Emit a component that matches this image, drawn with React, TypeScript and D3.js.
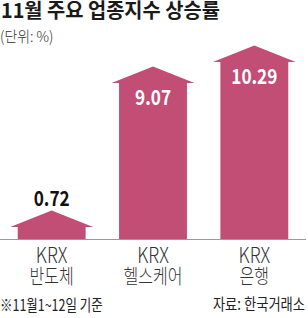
import React from "react";
import * as d3 from "d3";

const title = "11월 주요 업종지수 상승률";
const unit = "(단위: %)";
const categories = ["KRX 반도체", "KRX 헬스케어", "KRX 은행"];
const values = [0.72, 9.07, 10.29];
const valueLabels = ["0.72", "9.07", "10.29"];
const note = "※11월1~12일 기준";
const source = "자료: 한국거래소";

const W = 308;
const H = 318;
const BAR = "#c24d75";
const FONT = "'Noto Sans CJK KR', 'Noto Sans', sans-serif";

function SText({ x, y, sx = 0.8, anchor = "middle", size, weight = 400, fill = "#222", children }: any) {
  return (
    <text
      transform={`translate(${x},${y}) scale(${sx},1)`}
      textAnchor={anchor}
      fontSize={size}
      fontWeight={weight}
      fill={fill}
      fontFamily={FONT}
    >
      {children}
    </text>
  );
}

export default function App() {
  const baseY = 239.5;
  const x = d3.scaleBand<string>().domain(categories).range([1, 305]).paddingInner(0.33).paddingOuter(0.165);
  const y = d3.scaleLinear().domain([0, 10.29]).range([baseY, 62]);
  const bw = x.bandwidth();
  const over = 7.5;
  const headH = 16.5;

  return (
    <div style={{ position: "absolute", left: 0, top: 0, width: W, height: H, background: "#fff" }}>
      <svg width={W} height={H} style={{ display: "block" }}>
        <rect width={W} height={H} fill="#fff" />
        <SText x={1} y={18} anchor="start" size={20} weight={700} sx={0.99} fill="#1a1a1a">{title}</SText>
        <SText x={0} y={42} anchor="start" size={15} weight={300} sx={0.93} fill="#333">{unit}</SText>
        {categories.map((c, i) => {
          const x0 = x(c)!;
          const cx = x0 + bw / 2;
          const top = y(values[i]);
          const d = d3.path();
          d.moveTo(x0, baseY);
          d.lineTo(x0, top);
          d.lineTo(x0 - over, top);
          d.lineTo(cx, top - headH);
          d.lineTo(x0 + bw + over, top);
          d.lineTo(x0 + bw, top);
          d.lineTo(x0 + bw, baseY);
          d.closePath();
          const inside = baseY - top > 40;
          const [l1, l2] = c.split(" ");
          return (
            <g key={c}>
              <path d={d.toString()} fill={BAR} />
              {inside ? (
                <SText x={cx} y={top + 21.5} size={21} weight={700} sx={0.82} fill="#fff">{valueLabels[i]}</SText>
              ) : (
                <SText x={cx} y={top - headH - 5} size={21} weight={700} sx={0.82} fill="#111">{valueLabels[i]}</SText>
              )}
              <SText x={cx} y={263} size={21} weight={300} sx={0.85} fill="#333">{l1}</SText>
              <SText x={cx} y={283.5} size={20} weight={300} sx={0.8} fill="#333">{l2}</SText>
            </g>
          );
        })}
        <line x1={0} x2={306} y1={baseY} y2={baseY} stroke="#9a9a9a" strokeWidth={1} />
        <SText x={0} y={311} anchor="start" size={16} weight={400} sx={0.78} fill="#222">{note}</SText>
        <SText x={305} y={310} anchor="end" size={16} weight={400} sx={0.83} fill="#222">{source}</SText>
      </svg>
    </div>
  );
}
